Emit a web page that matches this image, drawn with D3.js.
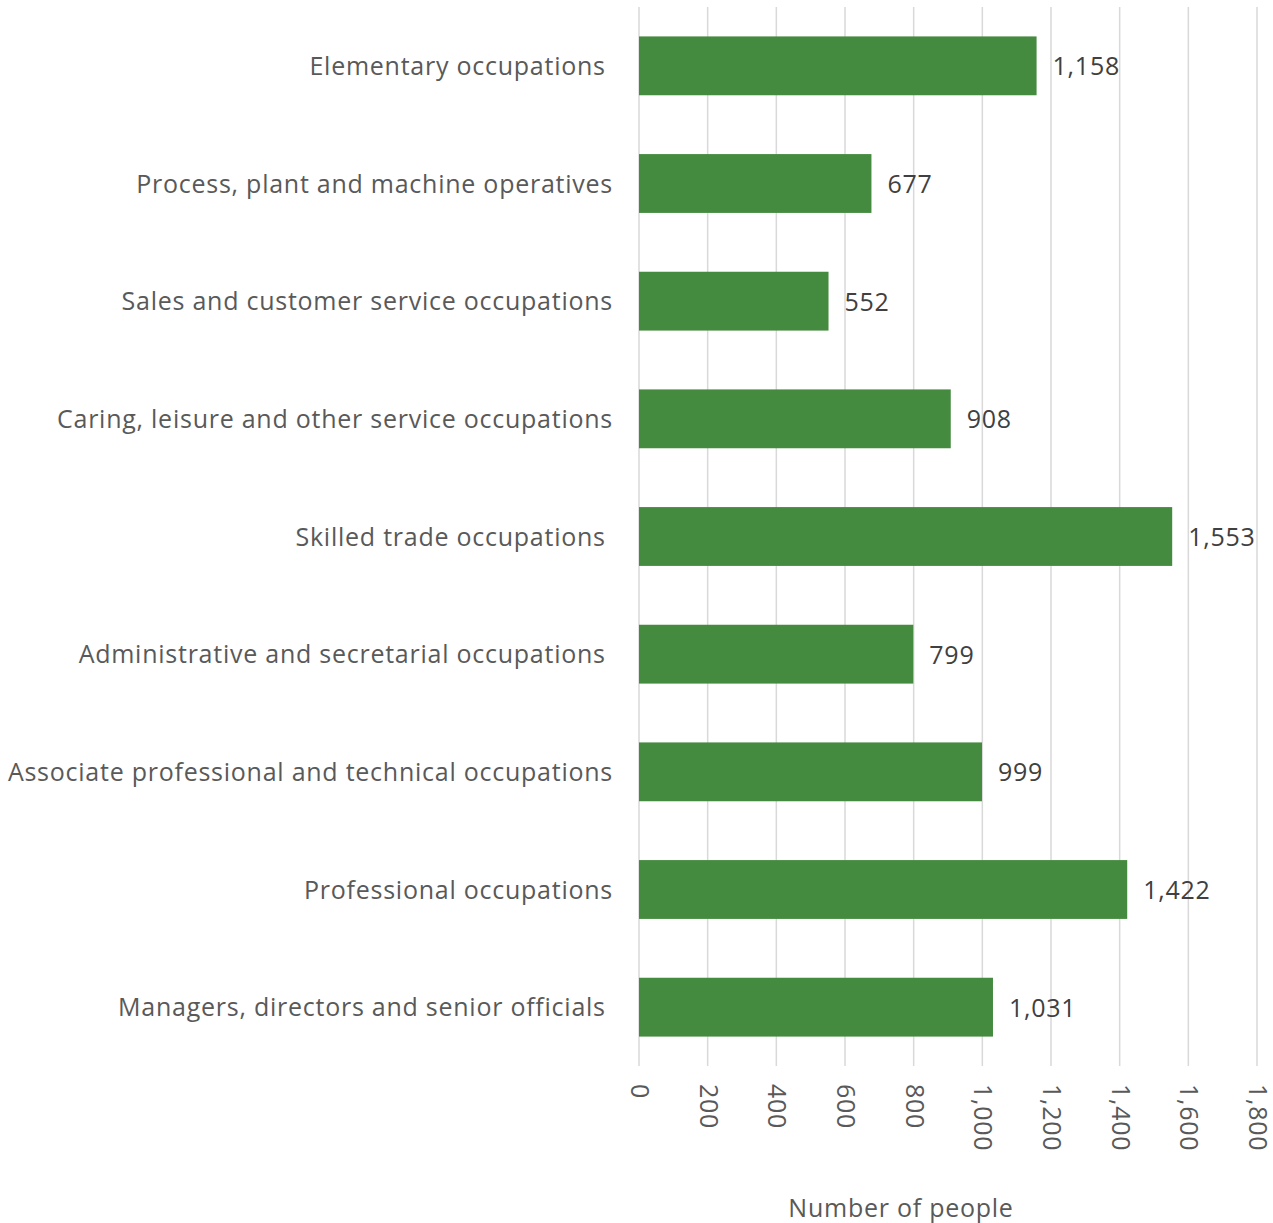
<!DOCTYPE html>
<html>
<head>
<meta charset="utf-8">
<script src="https://cdn.jsdelivr.net/npm/d3@7"></script>
<style>
  html, body { margin: 0; padding: 0; background: #ffffff; }
  svg text { font-family: "Open Sans", Lato, sans-serif; fill: #595959; letter-spacing: 0.75px; }
</style>
</head>
<body>
<svg id="chart" width="1273" height="1223"></svg>
<script>
// Occupation groups, top to bottom
const categories = [
  "Elementary occupations ",
  "Process, plant and machine operatives",
  "Sales and customer service occupations",
  "Caring, leisure and other service occupations",
  "Skilled trade occupations ",
  "Administrative and secretarial occupations ",
  "Associate professional and technical occupations",
  "Professional occupations",
  "Managers, directors and senior officials "
];
// Number of people in each group
const values = [1158, 677, 552, 908, 1553, 799, 999, 1422, 1031];
// Axis ticks
const tickValues = [0, 200, 400, 600, 800, 1000, 1200, 1400, 1600, 1800];
const axisTitle = "Number of people";

const svg = d3.select("#chart");
const margin = { top: 7, left: 639, right: 16, bottom: 157 };
const W = +svg.attr("width"), H = +svg.attr("height");
const fontFamily = "'Open Sans', Lato, sans-serif";
const fontSize = 25;

const x = d3.scaleLinear().domain([0, 1800]).range([margin.left, W - margin.right]);
const y = d3.scaleBand().domain(categories).range([margin.top, H - margin.bottom]).paddingInner(0.5).paddingOuter(0.25);

const fmt = d3.format(",");

// vertical gridlines
svg.append("g")
  .selectAll("line")
  .data(tickValues)
  .join("line")
  .attr("x1", d => x(d)).attr("x2", d => x(d))
  .attr("y1", margin.top).attr("y2", H - margin.bottom)
  .attr("stroke", "#d9d9d9")
  .attr("stroke-width", 1.5);

// bars
svg.append("g")
  .selectAll("rect")
  .data(values)
  .join("rect")
  .attr("x", x(0))
  .attr("y", (d, i) => y(categories[i]))
  .attr("width", d => x(d) - x(0))
  .attr("height", y.bandwidth())
  .attr("fill", "#448a3f");

// value labels
svg.append("g")
  .selectAll("text")
  .data(values)
  .join("text")
  .attr("x", d => x(d) + 16)
  .attr("y", (d, i) => y(categories[i]) + y.bandwidth() / 2)
  .attr("dy", "0.38em")
  .attr("font-size", fontSize)
  .style("fill", "#404040")
  .text(d => fmt(d));

// category axis
const yAxis = svg.append("g")
  .attr("transform", `translate(${margin.left - 26},0)`)
  .call(d3.axisLeft(y).tickSize(0).tickPadding(0));
yAxis.select(".domain").remove();
yAxis.selectAll("text")
  .attr("font-size", fontSize)
  .attr("dy", "0.36em")
  .style("white-space", "pre")
  .style("font-family", fontFamily)
  .attr("fill", "#595959");

// value axis with rotated tick labels
const xAxis = svg.append("g")
  .attr("transform", `translate(0,${H - margin.bottom})`)
  .call(d3.axisBottom(x).tickValues(tickValues).tickFormat(fmt).tickSize(0));
xAxis.select(".domain").remove();
xAxis.selectAll("text")
  .attr("font-size", fontSize)
  .style("font-family", fontFamily)
  .attr("fill", "#595959")
  .attr("text-anchor", "start")
  .attr("transform", "translate(0,18) rotate(90)")
  .attr("x", 0)
  .attr("y", 0)
  .attr("dy", "0.34em");

// axis title
svg.append("text")
  .attr("x", 901)
  .attr("y", 1217)
  .attr("text-anchor", "middle")
  .attr("font-size", fontSize)
  .text(axisTitle);
</script>
</body>
</html>
